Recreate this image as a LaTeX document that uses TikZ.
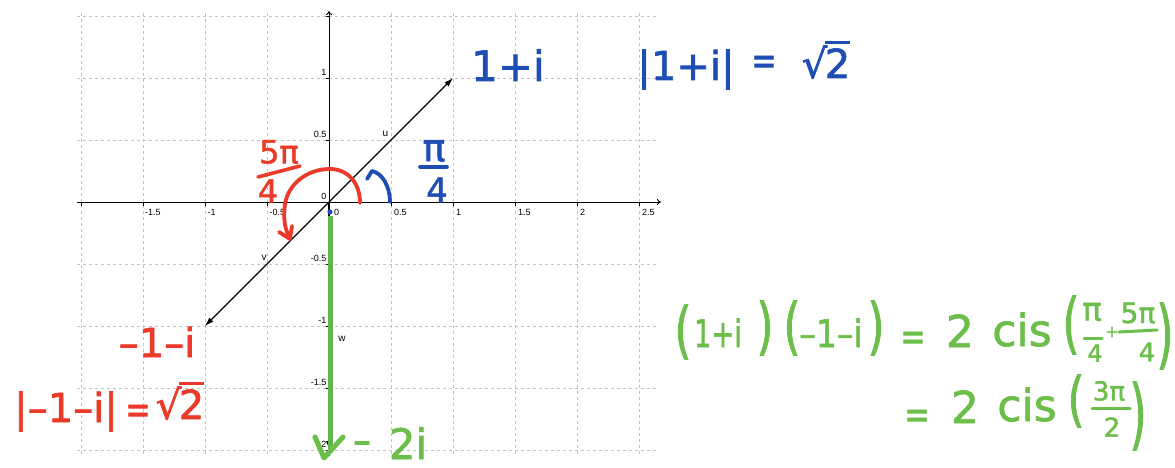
\documentclass[tikz,border=0pt]{standalone}
\usepackage{fontspec}
\setmainfont{Liberation Sans}
\newfontfamily\hwfont[FakeBold=1.6]{DejaVu Sans}
\usepackage{graphicx}
\usetikzlibrary{arrows.meta}
\definecolor{pblue}{RGB}{30,78,180}
\definecolor{pred}{RGB}{236,58,42}
\definecolor{pgreen}{RGB}{108,190,74}
\definecolor{vecgreen}{RGB}{98,180,72}
\definecolor{gridgray}{RGB}{196,196,196}
\newcommand\hwsize[1]{\hwfont\fontsize{#1}{#1}\selectfont}
\newcommand\tallp[2]{\scalebox{1}[#1]{#2}}
\newcommand\hwsqrt[1]{√\kern-0.06em\vbox{\hrule height 0.09em\kern0.1em\hbox{#1}}}
\tikzset{
  hw/.style={inner sep=0pt, font=\hwsize{#1}},
  gridline/.style={gridgray, dash pattern=on 3pt off 3pt, line width=0.8pt},
  axislab/.style={inner sep=0pt, font=\fontsize{9}{9}\selectfont},
  veclab/.style={inner sep=0pt, font=\fontsize{10}{10}\selectfont},
  vec/.style={line width=1.1pt, -{Latex[length=9pt,width=6pt]}},
  pen/.style={line width=3.8pt, line cap=round, line join=round},
  fracbar/.style={line width=3.6pt, line cap=round}
}
\begin{document}
\begin{tikzpicture}[x=1pt,y=-1pt]
\path[use as bounding box] (0,0) rectangle (1175,468);
% grid
\foreach \gx in {81,143,205,267,391,453,515,577,639}
  \draw[gridline] (\gx,13) -- (\gx,456);
\foreach \gy in {16,78,140,264,326,388,450}
  \draw[gridline] (77,\gy) -- (657,\gy);
% axes
\coordinate (O) at (329,202);
\coordinate (xa) at (77,202);
\coordinate (xb) at (661,202);
\coordinate (ya) at (329,456);
\coordinate (yb) at (329,11);
\draw[line width=0.9pt, -{To[length=4pt,width=6pt]}] (xa) -- (xb);
\draw[line width=0.9pt, -{To[length=4pt,width=6pt]}] (ya) -- (yb);
\foreach \gx in {81,143,205,267,391,453,515,577,639}
  \draw[line width=0.8pt] (\gx,202) -- (\gx,205.5);
\foreach \gy in {16,78,140,264,326,388,450}
  \draw[line width=0.8pt] (325.5,\gy) -- (329,\gy);
\foreach \px/\lab [count=\i] in {145/-1.5,207.5/-1,269.5/-0.5,334/0,394/0.5,456/1,518/1.5,580/2,642/2.5}
  \node[axislab, anchor=base west] (xl\i) at (\px,215) {\lab};
\foreach \py/\lab [count=\i] in {75.5/1,137.5/0.5,199.5/0,261.5/-0.5,323.5/-1,385.5/-1.5,447.5/-2}
  \node[axislab, anchor=base east] (yl\i) at (326.5,\py) {\lab};
% vectors
\coordinate (U) at (453,78);
\coordinate (V) at (205,326);
\coordinate (W) at (329,450);
\coordinate (G1) at (330,216);
\coordinate (G2) at (330,449);
\draw[vec] (O) -- (U);
\draw[vec] (O) -- (V);
\draw[vec] (O) -- (W);
\draw[vecgreen, line width=5pt] (G1) -- (G2);
\fill[pblue] (330,212) circle (2.6);
\node[veclab] (lu) at (385.5,134) {u};
\node[veclab] (lv) at (264,257.5) {v};
\node[veclab] (lw) at (342,339) {w};
% red angle
\draw[pen, pred] (360,203) .. controls (360,182) and (347,169) .. (330,169)
  .. controls (306,169) and (288,185) .. (285,204)
  .. controls (283,220) and (285,230) .. (290,238);
\draw[pen, pred] (279,232) -- (290,239) -- (292,226);
\node[hw=32, pred] (r5pi) at (279,152) {5π};
\draw[fracbar, pred] (258,177) -- (300,166);
\node[hw=32, pred] (r4) at (268,191) {4};
% blue angle
\draw[pen, pblue] (390,202) .. controls (390,186) and (382,173) .. (372,171) -- (367,179);
\node[hw=38, pblue] (bpi) at (434,151) {π};
\draw[fracbar, pblue] (420,167) -- (447,167);
\node[hw=34, pblue] (b4) at (437,190) {4};
% blue labels
\node[hw=42, pblue, anchor=base] (z1) at (508,81) {1+i};
\node[hw=40, pblue, anchor=base] (m1a) at (686,80) {|1+i|};
\node[hw=40, pblue] (m1b) at (764,65) {\scalebox{0.75}[1]{=}};
\node[hw=40, pblue, anchor=base] (m1c) at (826,78) {\hwsqrt{2}};
% red labels
\node[hw=40, pred, anchor=base] (z2) at (157,357) {–1–i};
\node[hw=40, pred, anchor=base] (m2a) at (66,422) {|–1–i|};
\node[hw=40, pred] (m2b) at (138,414) {\scalebox{0.75}[1]{=}};
\node[hw=40, pred, anchor=base] (m2c) at (180,419) {\hwsqrt{2}};
% green arrow head and label
\draw[pen, pgreen, line width=5pt] (315,437) -- (324,458) -- (343,437);
\node[hw=42, pgreen] (gm) at (362,448) {\scalebox{0.85}[1]{–}};
\node[hw=42, pgreen, anchor=base] (g2i) at (408,459) {2i};
% green equation line 1
\node[hw=44, pgreen] (e1) at (683,332) {\tallp{1.4}{(}};
\node[hw=38, pgreen, anchor=base] (e2) at (718,347) {\scalebox{0.72}[1]{1+i}};
\node[hw=44, pgreen] (e3) at (765,328) {\tallp{1.4}{)}};
\node[hw=44, pgreen] (e4) at (792,328) {\tallp{1.4}{(}};
\node[hw=38, pgreen, anchor=base] (e5) at (831,347) {\scalebox{0.87}[1]{–1–i}};
\node[hw=44, pgreen] (e6) at (876,328) {\tallp{1.4}{)}};
\node[hw=40, pgreen] (e7) at (913,341) {\scalebox{0.75}[1]{=}};
\node[hw=44, pgreen, anchor=base] (e8) at (960,347) {2};
\node[hw=44, pgreen, anchor=base] (e9) at (1022,346) {cis};
\node[hw=44, pgreen] (e10) at (1071,325) {\tallp{1.5}{(}};
\node[hw=32, pgreen] (e11) at (1092,312) {π};
\draw[fracbar, pgreen, line width=3pt] (1084,338) -- (1102,338);
\node[hw=24, pgreen] (e12) at (1095,353) {4};
\node[hw=16, pgreen] (e13) at (1112,332) {+};
\node[hw=28, pgreen] (e14) at (1138,313) {5π};
\draw[fracbar, pgreen, line width=3pt] (1119,332) -- (1157,330);
\node[hw=26, pgreen] (e15) at (1147,352) {4};
\node[hw=44, pgreen] (e16) at (1165,336) {\tallp{1.7}{)}};
% green equation line 2
\node[hw=40, pgreen] (f1) at (917,419) {\scalebox{0.75}[1]{=}};
\node[hw=44, pgreen, anchor=base] (f2) at (965,423) {2};
\node[hw=44, pgreen, anchor=base] (f3) at (1027,421) {cis};
\node[hw=44, pgreen] (f4) at (1076,401) {\tallp{1.35}{(}};
\node[hw=26, pgreen] (f5) at (1109,391) {3π};
\draw[fracbar, pgreen, line width=3pt] (1092,408) -- (1130,408);
\node[hw=26, pgreen] (f6) at (1112,427) {2};
\node[hw=44, pgreen] (f7) at (1138,416) {\tallp{1.75}{)}};
\end{tikzpicture}
\end{document}
